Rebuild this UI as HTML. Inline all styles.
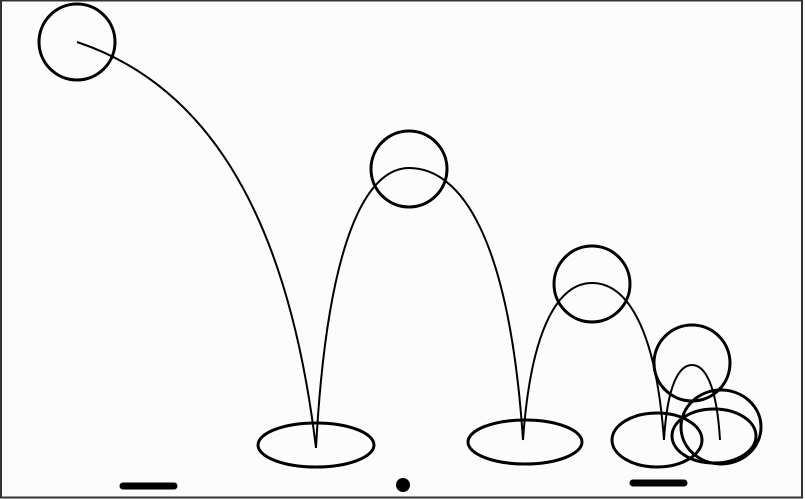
<!DOCTYPE html>
<html><head><meta charset="utf-8"><style>
html,body{margin:0;padding:0;background:#fff;}
svg{display:block;}
</style></head><body>
<svg id="scene" width="805" height="499" viewBox="0 0 805 499" xmlns="http://www.w3.org/2000/svg">
<rect x="0" y="0" width="805" height="499" fill="#fcfcfc"/>
<rect x="1" y="0.5" width="801" height="497" fill="none" stroke="#333" stroke-width="2"/>
<g id="marks" fill="none" stroke="#000"></g>
</svg>
<script>
// ball positions (cx, cy, rx, ry)
const ballX = [77, 409, 592, 692, 721];
const ballY = [42, 169, 284, 363, 427];
const ballRX = [38, 38, 38, 38, 40];
const ballRY = [38, 38, 38, 38, 37];
// squashed ball ellipses at ground
const squashX = [316, 525, 657, 714];
const squashY = [445, 442, 440, 436];
const squashRX = [58, 57, 45, 42];
const squashRY = [22, 22, 27, 27];
// trajectory arcs: start, peak, end
const arcStartX = [77, 316, 523, 664];
const arcStartY = [42, 448, 440, 440];
const arcPeakX = [77, 409, 592, 692];
const arcPeakY = [42, 168, 283, 365];
const arcEndX = [316, 523, 664, 720];
const arcEndY = [448, 440, 440, 440];

const ns = 'http://www.w3.org/2000/svg';
const g = document.getElementById('marks');
function mk(tag, attrs){const e=document.createElementNS(ns,tag);for(const k in attrs)e.setAttribute(k,attrs[k]);g.appendChild(e);return e;}

ballX.forEach((x,i)=>{
  const e = mk('ellipse',{cx:x,cy:ballY[i],rx:ballRX[i],ry:ballRY[i],'stroke-width':3});
  
  
});
squashX.forEach((x,i)=>{
  const e = mk('ellipse',{cx:x,cy:squashY[i],rx:squashRX[i],ry:squashRY[i],'stroke-width':3});
  
  
});
arcStartX.forEach((sx,i)=>{
  const sy=arcStartY[i], px=arcPeakX[i], py=arcPeakY[i], ex=arcEndX[i], ey=arcEndY[i];
  let d;
  if (i===0) {
    d = `M${sx},${sy} C${sx+120},${sy+40} ${ex-30},${ey-250} ${ex},${ey}`;
  } else {
    const a=px-sx, b=ex-px;
    d = `M${sx},${sy} C${sx+a*0.12},${py+(sy-py)*0.25} ${px-a*0.45},${py} ${px},${py} C${px+b*0.45},${py} ${ex-b*0.12},${py+(ey-py)*0.25} ${ex},${ey}`;
  }
  const e = mk('path',{d:d,'stroke-width':2});
  
  
});
const d1 = mk('line',{x1:123,y1:486,x2:174,y2:486,'stroke-width':7,'stroke-linecap':'round'});


const dot = mk('circle',{cx:403,cy:485,r:7,fill:'#000',stroke:'none'});


const d2 = mk('line',{x1:633,y1:483,x2:684,y2:483,'stroke-width':7,'stroke-linecap':'round'});


</script>
</body></html>
